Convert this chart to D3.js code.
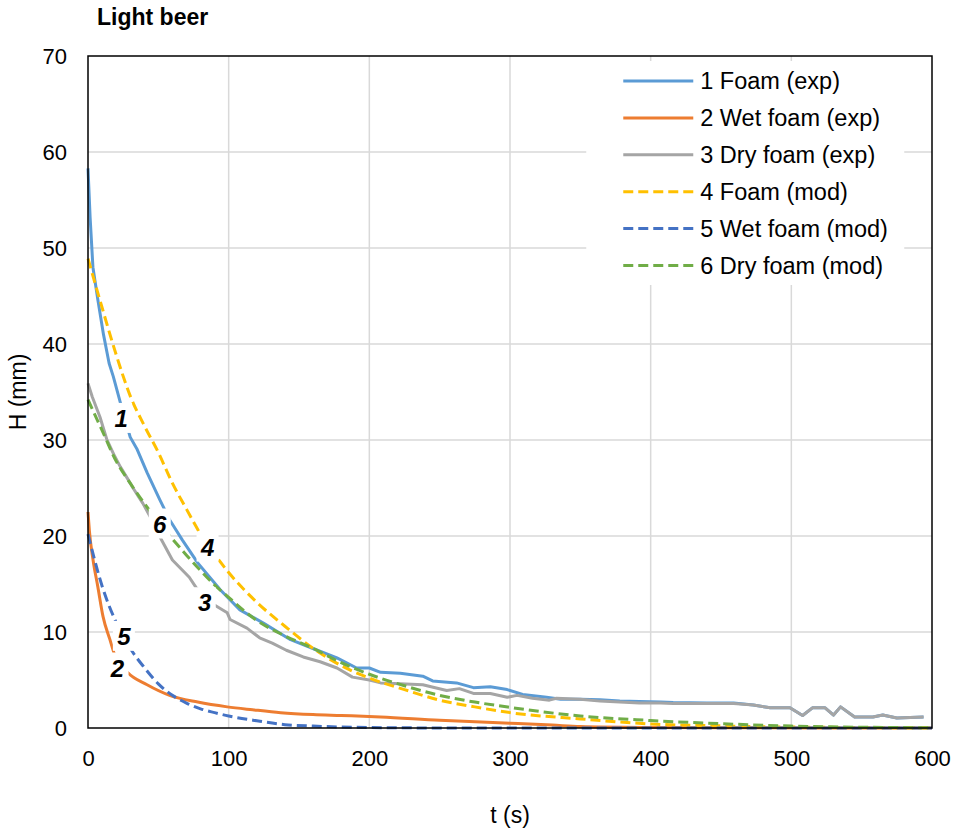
<!DOCTYPE html>
<html>
<head>
<meta charset="utf-8">
<script src="https://cdn.jsdelivr.net/npm/d3@7"></script>
<style>
  body { margin: 0; background: #fff; }
  svg text { font-family: "Liberation Sans", Arial, sans-serif; fill: #000; }
</style>
</head>
<body>
<div id="chart-area"></div>
<script>

/* Data */
var seriesNames = ["1 Foam (exp)", "2 Wet foam (exp)", "3 Dry foam (exp)",
                   "4 Foam (mod)", "5 Wet foam (mod)", "6 Dry foam (mod)"];
var seriesColors = ["#5B9BD5", "#ED7D31", "#A5A5A5", "#FFC000", "#4472C4", "#70AD47"];

// 1 Foam (exp)
var foamExpT = [0, 1.5, 3.5, 7, 11, 15, 18, 23, 30, 35, 42, 51, 58, 67, 78, 94, 108, 125, 144, 163, 177, 191, 200,
  208, 222, 238, 245, 262, 274, 286, 298, 309, 326, 336, 350, 364, 378, 392, 407, 416, 440, 459, 473, 485, 499,
  508, 515, 524, 530, 535, 545, 558, 565, 575, 594];
var foamExpH = [58.3, 53.2, 48, 44.6, 41, 38, 36.6, 33.9, 30.3, 29, 26.6, 23.8, 21.7, 19.6, 17.2, 14.4, 12.3, 10.9, 9.2, 8.1, 7.3, 6.25, 6.25,
  5.8, 5.7, 5.4, 4.9, 4.7, 4.2, 4.3, 4.0, 3.5, 3.2, 3.0, 3.0, 2.95, 2.8, 2.75, 2.7, 2.65, 2.6, 2.6, 2.4, 2.1, 2.1,
  1.3, 2.1, 2.1, 1.35, 2.2, 1.15, 1.15, 1.35, 1.05, 1.15];

// 2 Wet foam (exp)
var wetExpT = [0, 1, 3.6, 7, 10.7, 15.6, 19, 28, 42, 58, 78, 99, 117, 137, 160, 180, 208, 250, 300, 330, 350, 400, 450, 600];
var wetExpH = [22.5, 20.5, 17.5, 14.7, 11.6, 9.2, 7.6, 5.8, 4.5, 3.4, 2.7, 2.2, 1.9, 1.6, 1.4, 1.3, 1.15, 0.8, 0.5, 0.3, 0.15, 0.05, 0.02, 0];

// 3 Dry foam (exp)
var dryExpT = [0, 3, 8.5, 13.5, 19, 23, 28, 32, 39, 45, 50, 60, 72, 77, 89, 99, 101, 113, 122, 131, 141, 153, 165, 177, 188, 200,
  208, 222, 238, 255, 264, 274, 286, 298, 305, 316, 328, 333, 350, 364, 378, 392, 407, 416, 440, 459, 473, 485, 499,
  508, 515, 524, 530, 535, 545, 558, 565, 575, 594];
var dryExpH = [35.9, 34.5, 32.4, 30, 28.3, 27.2, 26.0, 25.0, 23.4, 21.8, 20.2, 17.5, 15.7, 14.6, 12.9, 12, 11.3, 10.4, 9.4, 8.85, 8.1, 7.4, 6.9, 6.25, 5.3, 5.0,
  4.7, 4.6, 4.5, 3.9, 4.1, 3.6, 3.6, 3.2, 3.4, 3.1, 2.9, 3.1, 3.0, 2.8, 2.7, 2.6, 2.6, 2.55, 2.55, 2.55, 2.4, 2.1, 2.1,
  1.3, 2.1, 2.1, 1.35, 2.2, 1.15, 1.15, 1.35, 1.05, 1.15];

// model curves (4, 5, 6) share one time grid
var modT      = [0, 10, 20, 30, 40, 50, 60, 70, 80, 90, 100, 120, 140, 160, 180, 200, 225, 250, 275, 300, 350, 400, 450, 500, 550, 600];
var foamModH  = [48.9, 43.8, 38.9, 34.6, 31.5, 28.7, 25.5, 22.8, 20.2, 18.1, 16.2, 13.1, 10.6, 8.3, 6.5, 5.2, 4.0, 2.9, 2.2, 1.6, 0.95, 0.42, 0.22, 0.1, 0.05, 0.02];
var wetModH   = [20.2, 14.8, 11.0, 8.3, 6.3, 4.6, 3.4, 2.6, 2.0, 1.6, 1.25, 0.75, 0.35, 0.2, 0.1, 0.05, 0.02, 0, 0, 0, 0, 0, 0, 0, 0, 0];
var dryModH   = [34.2, 31.0, 27.8, 25.5, 23.4, 21.5, 19.7, 18.0, 16.4, 14.9, 13.6, 11.2, 9.6, 8.3, 6.8, 5.6, 4.4, 3.4, 2.7, 2.15, 1.25, 0.78, 0.45, 0.2, 0.08, 0.03];

// curve number labels (data coords)
var curveLabels = ["1", "2", "3", "4", "5", "6"];
var labelT = [23.5, 21, 83, 85, 25.5, 51];
var labelH = [32.3, 6.3, 13.1, 18.9, 9.6, 21.3];

var xTicks = [0, 100, 200, 300, 400, 500, 600];
var yTicks = [0, 10, 20, 30, 40, 50, 60, 70];


/* Margin convention */
var margin = {top: 56, right: 28, bottom: 101, left: 88};
var width = 960 - margin.left - margin.right;
var height = 829 - margin.top - margin.bottom;

var svg = d3.select("#chart-area").append("svg")
  .attr("width", 960)
  .attr("height", 829);

var g = svg.append("g")
  .attr("transform", "translate(" + margin.left + "," + margin.top + ")");

/* Scales */
var x = d3.scaleLinear().domain([0, 600]).range([0, width]);
var y = d3.scaleLinear().domain([0, 70]).range([height, 0]);

/* Gridlines */
g.append("g")
  .selectAll("line.h")
  .data(yTicks.filter(d => d > 0 && d < 70))
  .enter().append("line")
    .attr("x1", 0).attr("x2", width)
    .attr("y1", d => y(d)).attr("y2", d => y(d))
    .attr("stroke", "#D9D9D9").attr("stroke-width", 1.5);

g.append("g")
  .selectAll("line.v")
  .data(xTicks.filter(d => d > 0 && d < 600))
  .enter().append("line")
    .attr("x1", d => x(d)).attr("x2", d => x(d))
    .attr("y1", 0).attr("y2", height)
    .attr("stroke", "#D9D9D9").attr("stroke-width", 1.5);

/* Axes (labels only, box drawn below) */
var xAxisCall = d3.axisBottom(x).tickValues(xTicks).tickSize(0).tickPadding(22);
var xAxis = g.append("g")
  .attr("transform", "translate(0," + height + ")")
  .call(xAxisCall);
xAxis.select(".domain").remove();
xAxis.selectAll("text").attr("font-size", "22px").attr("font-family", "Liberation Sans, Arial, sans-serif");

var yAxisCall = d3.axisLeft(y).tickValues(yTicks).tickSize(0).tickPadding(21);
var yAxis = g.append("g").call(yAxisCall);
yAxis.select(".domain").remove();
yAxis.selectAll("text").attr("font-size", "22px").attr("font-family", "Liberation Sans, Arial, sans-serif");

/* Legend background (hides gridlines behind it) */
var legend = g.append("g")
  .attr("transform", "translate(" + (x(340)) + ",0)");

legend.append("rect")
  .attr("x", 20).attr("y", 5)
  .attr("width", 318).attr("height", 224)
  .attr("fill", "#fff");

/* Lines */
var line = d3.line()
  .x(d => x(d[0]))
  .y(d => y(d[1]));

var smooth = d3.line()
  .x(d => x(d[0]))
  .y(d => y(d[1]))
  .curve(d3.curveMonotoneX);

var seriesData = [
  d3.zip(foamExpT, foamExpH),
  d3.zip(wetExpT, wetExpH),
  d3.zip(dryExpT, dryExpH),
  d3.zip(modT, foamModH),
  d3.zip(modT, wetModH),
  d3.zip(modT, dryModH)
];

seriesData.forEach((data, i) => {
  var dashed = i >= 3;
  g.append("path")
    .datum(data)
    .attr("fill", "none")
    .attr("stroke", seriesColors[i])
    .attr("stroke-width", 3)
    .attr("stroke-linejoin", "round")
    .attr("stroke-dasharray", dashed ? "10,5" : null)
    .attr("d", dashed ? smooth : (i == 1 ? smooth : line));
});

/* Legend rows */
seriesNames.forEach((name, i) => {
  var row = legend.append("g")
    .attr("transform", `translate(0,${25 + i * 36.9})`);

  row.append("line")
    .attr("x1", 57).attr("x2", 127)
    .attr("stroke", seriesColors[i])
    .attr("stroke-width", 3)
    .attr("stroke-dasharray", i >= 3 ? "10,5" : null);

  row.append("text")
    .attr("x", 134)
    .attr("y", 8)
    .attr("font-size", "23.5px")
    .text(name);
});

/* Curve number labels */
curveLabels.forEach((lab, i) => {
  var lg = g.append("g")
    .attr("transform", `translate(${x(labelT[i])},${y(labelH[i])})`);
  lg.append("rect")
    .attr("x", -11).attr("y", -15)
    .attr("width", 22).attr("height", 30)
    .attr("fill", "#fff");
  lg.append("text")
    .attr("text-anchor", "middle")
    .attr("y", 9)
    .attr("font-size", "24px")
    .attr("font-weight", "bold")
    .attr("font-style", "italic")
    .text(lab);
});

/* Plot border */
g.append("rect")
  .attr("width", width)
  .attr("height", height)
  .attr("fill", "none")
  .attr("stroke", "#000")
  .attr("stroke-width", 1.5);

/* Titles */
svg.append("text")
  .attr("x", 97)
  .attr("y", 25)
  .attr("font-size", "23px")
  .attr("font-weight", "bold")
  .text("Light beer");

svg.append("text")
  .attr("transform", "rotate(-90)")
  .attr("x", -(margin.top + height / 2))
  .attr("y", 26)
  .attr("text-anchor", "middle")
  .attr("font-size", "23px")
  .text("H (mm)");

svg.append("text")
  .attr("x", margin.left + width / 2)
  .attr("y", 823)
  .attr("text-anchor", "middle")
  .attr("font-size", "23px")
  .text("t (s)");

</script>
</body>
</html>
